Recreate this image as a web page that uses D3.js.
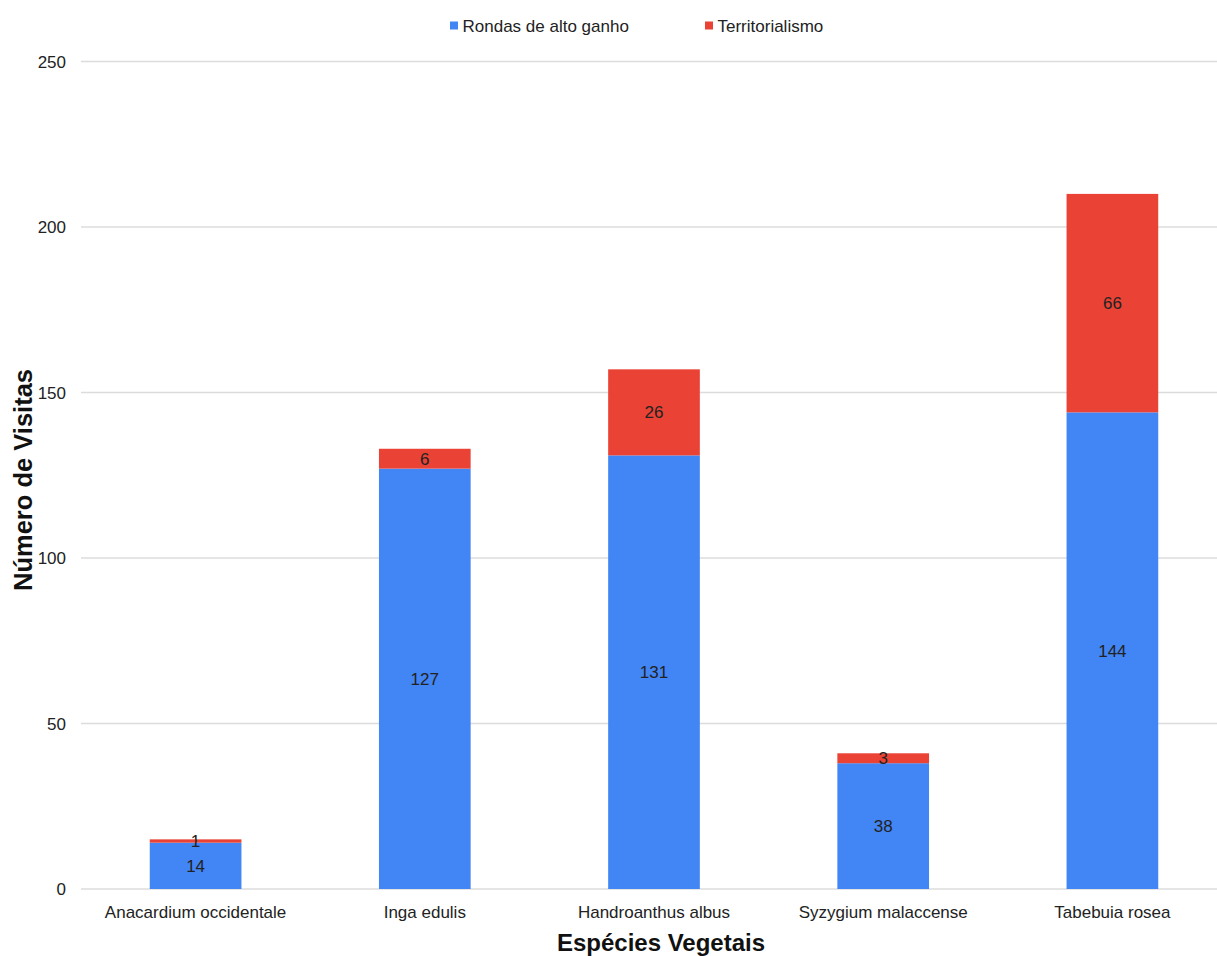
<!DOCTYPE html>
<html>
<head>
<meta charset="utf-8">
<script src="https://cdn.jsdelivr.net/npm/d3@7"></script>
<style>
  html, body { margin: 0; padding: 0; background: #fff; }
  svg { display: block; font-family: "Liberation Sans", Arial, sans-serif; }
</style>
</head>
<body>
<svg id="chart" width="1217" height="956"></svg>
<script>
const categories = ["Anacardium occidentale", "Inga edulis", "Handroanthus albus", "Syzygium malaccense", "Tabebuia rosea"];
const rondas = [14, 127, 131, 38, 144];
const territorialismo = [1, 6, 26, 3, 66];
const seriesNames = ["Rondas de alto ganho", "Territorialismo"];
const seriesColors = ["#4285F4", "#EA4335"];
const yTicks = [0, 50, 100, 150, 200, 250];

const svg = d3.select("#chart");
const x = d3.scaleBand().domain(categories).range([81, 1227]).paddingInner(0.6).paddingOuter(0.3);
const y = d3.scaleLinear().domain([0, 250]).range([889, 61.5]);

const rows = categories.map((c, i) => ({ cat: c, r: rondas[i], t: territorialismo[i] }));
const stack = d3.stack().keys(["r", "t"]);
const stacked = stack(rows);

// gridlines
svg.append("g").selectAll("line").data(yTicks).join("line")
  .attr("x1", 81).attr("x2", 1217)
  .attr("y1", d => y(d)).attr("y2", d => y(d))
  .attr("stroke", "#dcdcdc").attr("stroke-width", 1.4);

// y tick labels
svg.append("g").selectAll("text").data(yTicks).join("text")
  .attr("x", 66).attr("y", d => y(d)).attr("dy", "0.36em")
  .attr("text-anchor", "end").attr("font-size", 17).attr("fill", "#222")
  .text(d => d);

// bars
stacked.forEach((layer, li) => {
  const g = svg.append("g");
  g.selectAll("rect").data(layer).join("rect")
    .attr("x", d => x(d.data.cat))
    .attr("width", x.bandwidth())
    .attr("y", d => y(d[1]))
    .attr("height", d => y(d[0]) - y(d[1]))
    .attr("fill", seriesColors[li]);
  g.selectAll("text").data(layer).join("text")
    .attr("x", d => x(d.data.cat) + x.bandwidth() / 2)
    .attr("y", d => (y(d[0]) + y(d[1])) / 2)
    .attr("dy", "0.36em")
    .attr("text-anchor", "middle").attr("font-size", 17).attr("fill", "#222")
    .text(d => d[1] - d[0]);
});

// x category labels
svg.append("g").selectAll("text").data(categories).join("text")
  .attr("x", d => x(d) + x.bandwidth() / 2).attr("y", 918)
  .attr("text-anchor", "middle").attr("font-size", 17).attr("fill", "#222")
  .text(d => d);

// axis titles
svg.append("text").attr("x", 661).attr("y", 951)
  .attr("text-anchor", "middle").attr("font-size", 24).attr("font-weight", "bold").attr("fill", "#111")
  .text("Espécies Vegetais");
svg.append("text").attr("transform", "translate(32,480) rotate(-90)")
  .attr("text-anchor", "middle").attr("font-size", 25.5).attr("font-weight", "bold").attr("fill", "#111")
  .text("Número de Visitas");

// legend
const legendX = [450, 705];
const lg = svg.append("g");
seriesNames.forEach((n, i) => {
  lg.append("rect").attr("x", legendX[i]).attr("y", 21.5).attr("width", 8).attr("height", 8).attr("fill", seriesColors[i]);
  lg.append("text").attr("x", legendX[i] + 12.5).attr("y", 31.5).attr("font-size", 17).attr("fill", "#222").text(n);
});
</script>
</body>
</html>
